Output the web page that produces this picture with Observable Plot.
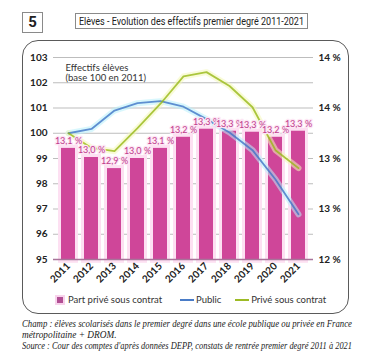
<!DOCTYPE html>
<html>
<head>
<meta charset="utf-8">
<script src="https://cdn.jsdelivr.net/npm/d3@7"></script>
<script src="https://cdn.jsdelivr.net/npm/@observablehq/plot@0.6"></script>
<style>
  html, body { margin: 0; padding: 0; background: #fff; }
  #wrap { position: relative; width: 375px; height: 359px; overflow: hidden; font-family: Lato, sans-serif; }
  #badge { position: absolute; left: 22px; top: 12px; width: 19px; height: 19px; border: 1px solid #8a8a8a;
           font: bold 15px Roboto, sans-serif; color: #222; text-align: center; line-height: 19px; }
  #title { position: absolute; left: 75px; top: 13px; width: 231px; height: 14px; border: 1px solid #8a8a8a;
           overflow: hidden; }
  #title span { position: absolute; left: 3px; top: 0; font: 11.5px Roboto, sans-serif; color: #222; line-height: 14px;
           white-space: nowrap; transform-origin: 0 50%; }
  #box { position: absolute; left: 22px; top: 40px; width: 325px; height: 272px; border: 1.5px solid #5a5a5a; border-radius: 16px; }
  #chart { position: absolute; left: 0; top: 40px; }
  #legend { position: absolute; top: 293px; left: 57px; font: 9.5px Lato, sans-serif; color: #333; white-space: nowrap; }
  #legend span { display: inline-block; vertical-align: middle; }
  .sw { width: 6px; height: 6px; background: #b24f94; outline: 2px solid #f8d3ec; margin-right: 5px; }
  .ln { width: 14px; height: 2px; margin-right: 2px; }
  #caption { position: absolute; top: 319px; left: 22px; width: 331px; font: italic 9.3px "Liberation Serif", serif;
             color: #222; line-height: 11px; }
  #caption div { white-space: nowrap; height: 11px; }
  #caption .fit { display: inline-block; transform-origin: 0 50%; }
</style>
</head>
<body>
<div id="wrap">
  <div id="badge">5</div>
  <div id="title"><span id="titleText">Elèves - Evolution des effectifs premier degré 2011-2021</span></div>
  <div id="box"></div>
  <div id="chart"></div>
  <div id="legend">
    <span class="sw"></span><span>Part privé sous contrat</span>
    <span style="width:13px"></span>
    <span class="ln" style="background:#4a7cc7"></span><span>Public</span>
    <span style="width:9px"></span>
    <span class="ln" style="background:#9dbb25"></span><span>Privé sous contrat</span>
  </div>
  <div id="caption">
    <div><span class="fit" data-w="330">Champ : élèves scolarisés dans le premier degré dans une école publique ou privée en France</span></div>
    <div><span class="fit">métropolitaine + DROM.</span></div>
    <div><span class="fit" data-w="330">Source : Cour des comptes d'après données DEPP, constats de rentrée premier degré 2011 à 2021</span></div>
  </div>
</div>
<script>
const years = ["2011","2012","2013","2014","2015","2016","2017","2018","2019","2020","2021"];
const partPrive = [13.10, 13.01, 12.90, 13.00, 13.10, 13.21, 13.29, 13.27, 13.26, 13.21, 13.27];
const publicIdx = [100, 100.17, 100.9, 101.19, 101.27, 101.05, 100.56, 100.03, 99.33, 98.17, 96.79];
const priveIdx  = [100, 99.42, 99.29, 100.2, 101.17, 102.25, 102.42, 101.87, 101.03, 99.33, 98.62];
const leftTicks = [95, 96, 97, 98, 99, 100, 101, 102, 103];
const rightTicks = [95, 97, 99, 101, 103];
const rightLabels = ["12 %", "13 %", "13 %", "14 %", "14 %"];

// right axis: 95 -> 12 %, 103 -> 14 %
const shareToIdx = v => 95 + (v - 12) * 4;
const fmtShare = v => v.toFixed(1).replace(".", ",") + " %";

const data = years.map((year, i) => ({
  year, share: partPrive[i], pub: publicIdx[i], priv: priveIdx[i]
}));
const rightMap = new Map(rightTicks.map((t, i) => [t, rightLabels[i]]));

const chart = Plot.plot({
  width: 375,
  height: 250,
  marginTop: 17,
  marginBottom: 31,
  marginLeft: 53,
  marginRight: 62,
  style: { fontFamily: "Lato, sans-serif", fontSize: "10px", color: "#222", background: "transparent" },
  x: { type: "band", domain: years, paddingInner: 0.4, paddingOuter: 0.2 },
  y: { domain: [95, 103] },
  marks: [
    Plot.ruleY(leftTicks.slice(1), { stroke: "#bdbdbd", strokeWidth: 1 }),
    Plot.barY(data, { x: "year", y1: 94.85, y2: d => shareToIdx(d.share) + 0.12, fill: "#fde0f2", insetLeft: -3, insetRight: -3 }),
    Plot.barY(data, { x: "year", y1: 95, y2: d => shareToIdx(d.share), fill: "#cf4699" }),
    Plot.ruleY([95], { stroke: "#a8749a", strokeWidth: 1.5 }),
    Plot.line(data, { x: "year", y: "pub", stroke: "#b8f1fb", strokeWidth: 6, strokeOpacity: 0.55 }),
    Plot.line(data, { x: "year", y: "priv", stroke: "#f4f7b8", strokeWidth: 6, strokeOpacity: 0.55 }),
    Plot.line(data, { x: "year", y: "pub", stroke: "#3f74c6", strokeWidth: 1.8, strokeOpacity: 0.8 }),
    Plot.line(data, { x: "year", y: "priv", stroke: "#97b916", strokeWidth: 1.8, strokeOpacity: 0.8 }),
    Plot.text(data, { x: "year", y: d => shareToIdx(d.share), text: d => fmtShare(d.share), dy: -7,
      fill: "#c03b8c", stroke: "#fde6f4", strokeWidth: 2.5, fontSize: 9 }),
    Plot.text(["Effectifs élèves\n(base 100 en 2011)"], { frameAnchor: "top-left", dx: 12, dy: 6,
      lineAnchor: "top", textAnchor: "start", fill: "#333", fontSize: 9.5, lineHeight: 1.1 }),
    Plot.axisY(leftTicks, { anchor: "left", tickSize: 0, tickPadding: 6, label: null, fontWeight: "bold", fontSize: 10, fill: "#222" }),
    Plot.axisY(rightTicks, { anchor: "right", tickSize: 0, tickPadding: 5, label: null,
      tickFormat: d => rightMap.get(d), fontWeight: "bold", fontSize: 10, fill: "#222" }),
    Plot.axisX({ tickRotate: -45, tickSize: 0, tickPadding: 5, label: null, fontWeight: "bold", fontSize: 10, fill: "#222" })
  ]
});
document.getElementById("chart").appendChild(chart);

// fit condensed title and caption lines to their widths
function fit(el, w) {
  const nat = el.getBoundingClientRect().width;
  if (nat > 0) el.style.transform = `scaleX(${w / nat})`;
}
fit(document.getElementById("titleText"), 225);
document.querySelectorAll("#caption .fit[data-w]").forEach(el => fit(el, +el.dataset.w));
</script>
</body>
</html>
